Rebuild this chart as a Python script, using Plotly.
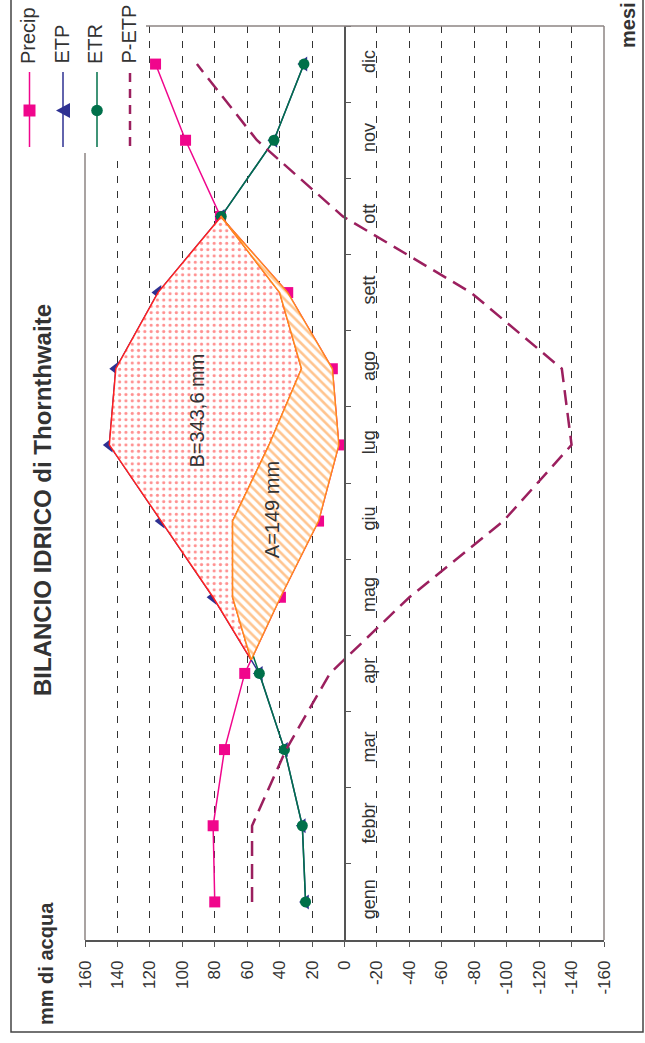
import plotly.graph_objects as go

# Monthly water balance (Thornthwaite), values in mm
months = ["genn", "febbr", "mar", "apr", "mag", "giu",
          "lug", "ago", "sett", "ott", "nov", "dic"]
precip = [80, 81, 74, 61.5, 39.5, 16, 3.5, 7.5, 35, 76.5, 98, 116.5]
etp = [24, 26, 37, 52.5, 81, 113, 145, 141, 115, 76, 43.5, 25]
etr = [24, 26, 37, 52.5, 69, 69, 46.5, 26.5, 40, 76, 43.5, 25]
p_etp = [57, 57, 36, 9, -40, -98, -140, -134, -78, 1, 54, 91]
value_ticks = list(range(-160, 161, 20))
value_labels = [str(v) for v in value_ticks]
area_b_label = "B=343,6 mm"
area_a_label = "A=149 mm"

W, H = 645, 1043
ML, MR, MT, MB = 85, 41, 26, 103
PW, PH = W - ML - MR, H - MT - MB

FONT = "Liberation Sans, Arial, sans-serif"
TXT = "#333333"
C_P = "#f0068c"
C_ETP = "#2e3192"
C_ETR = "#00704a"
C_DIFF = "#9b1f5e"
C_B = "#ff2020"
C_A = "#ff8a1f"
BORDER = "#8c8583"
AXIS = "#555555"


def px(x):
    return (x - ML) / PW


def py(y):
    return (H - MB - y) / PH


idx = list(range(len(months)))

fig = go.Figure()

fig.add_trace(go.Scatter(x=precip, y=idx, mode="lines+markers",
                         line=dict(color=C_P, width=1.5),
                         marker=dict(symbol="square", size=11, color=C_P)))
fig.add_trace(go.Scatter(x=etp, y=idx, mode="lines+markers",
                         line=dict(color=C_ETP, width=1.5),
                         marker=dict(symbol="triangle-left", size=13, color=C_ETP)))
fig.add_trace(go.Scatter(x=etr, y=idx, mode="lines+markers",
                         line=dict(color=C_ETR, width=1.5),
                         marker=dict(symbol="circle", size=11, color=C_ETR)))
fig.add_trace(go.Scatter(x=p_etp, y=idx, mode="lines",
                         line=dict(color=C_DIFF, width=2.5, dash="15px,8px")))

# where precipitation drops below ETP (between apr and mag)
i0 = months.index("apr")
t = (precip[i0] - etp[i0]) / ((precip[i0] - precip[i0 + 1]) + (etp[i0 + 1] - etp[i0]))
cross_y = i0 + t
cross_v = precip[i0] + (precip[i0 + 1] - precip[i0]) * t
i_end = months.index("ott")

# B: deficit between ETP and ETR
b_x = [cross_v] + etp[i0 + 1:i_end + 1] + etr[i_end - 1:i0:-1] + [cross_v]
b_y = [cross_y] + idx[i0 + 1:i_end + 1] + idx[i_end - 1:i0:-1] + [cross_y]
# A: soil water used, between ETR and precipitation
a_x = [cross_v] + etr[i0 + 1:i_end + 1] + precip[i_end:i0:-1] + [cross_v]
a_y = [cross_y] + idx[i0 + 1:i_end + 1] + idx[i_end:i0:-1] + [cross_y]

fig.add_trace(go.Scatter(x=b_x, y=b_y, mode="lines", fill="toself",
                         line=dict(color=C_B, width=1.5),
                         fillcolor="white",
                         fillpattern=dict(shape=".", fgcolor=C_B, bgcolor="white",
                                          size=6.3, solidity=0.2)))
fig.add_trace(go.Scatter(x=a_x, y=a_y, mode="lines", fill="toself",
                         line=dict(color=C_A, width=1.5),
                         fillcolor="white",
                         fillpattern=dict(shape="\\", fgcolor=C_A, bgcolor="white",
                                          size=6.5, solidity=0.4)))

fig.update_layout(
    width=W, height=H,
    margin=dict(l=ML, r=MR, t=MT, b=MB),
    paper_bgcolor="white", plot_bgcolor="white",
    showlegend=False,
    font=dict(family=FONT, color=TXT),
    xaxis=dict(range=[160, -160], tickmode="array", tickvals=value_ticks,
               ticktext=value_labels,
               tickangle=-90, ticks="outside", ticklen=5, tickcolor=AXIS,
               showline=True, linecolor=AXIS, linewidth=1.5,
               showgrid=True, gridcolor="#333333", gridwidth=1, griddash="7px,8px",
               zeroline=False, tickfont=dict(size=17, color=TXT),
               ticklabelstandoff=7),
    yaxis=dict(range=[-0.5, 11.5], tickmode="array", tickvals=idx, ticktext=months,
               anchor="free", position=0.5, side="right",
               showline=True, linecolor=AXIS, linewidth=1.5,
               ticks="", showgrid=False, zeroline=False,
               tickangle=-90, tickfont=dict(size=18, color=TXT),
               ticklabelstandoff=8,
               minor=dict(tickmode="array", tickvals=[i - 0.5 for i in range(13)],
                          ticks="outside", ticklen=6, tickcolor=AXIS, showgrid=False)),
)

shapes = []
# plot frame (left, top, right)
for x0, y0, x1, y1 in [(0, 0, 0, 1), (0, 1, 1, 1), (1, 0, 1, 1)]:
    shapes.append(dict(type="line", xref="paper", yref="paper", x0=x0, y0=y0, x1=x1, y1=y1,
                       line=dict(color=BORDER, width=1.5), layer="above"))
# outer chart border
shapes.append(dict(type="rect", xref="paper", yref="paper",
                   x0=px(11), x1=px(643), y0=py(1032), y1=py(-5),
                   line=dict(color="#444444", width=1.5), layer="above"))
# legend box
shapes.append(dict(type="rect", xref="paper", yref="paper",
                   x0=px(12), x1=px(146), y0=py(153), y1=py(-5),
                   line=dict(width=0), fillcolor="white", layer="above"))

leg = [("Precip", 29.5, C_P, "square"), ("ETP", 63, C_ETP, "tri"),
       ("ETR", 97, C_ETR, "circle"), ("P-ETP", 130, C_DIFF, "dash")]
for name, lx, col, kind in leg:
    if kind == "dash":
        shapes.append(dict(type="line", xref="paper", yref="paper",
                           x0=px(lx), x1=px(lx), y0=py(73), y1=py(147),
                           line=dict(color=col, width=2.5, dash="9px,7px"), layer="above"))
    else:
        shapes.append(dict(type="line", xref="paper", yref="paper",
                           x0=px(lx), x1=px(lx), y0=py(72), y1=py(147),
                           line=dict(color=col, width=1.5), layer="above"))
    if kind == "square":
        shapes.append(dict(type="rect", xref="paper", yref="paper",
                           x0=px(lx - 6), x1=px(lx + 6), y0=py(116.5), y1=py(104.5),
                           line=dict(width=0), fillcolor=col, layer="above"))
    elif kind == "tri":
        shapes.append(dict(type="path", xref="paper", yref="paper",
                           path=f"M {px(lx - 7)},{py(110.5)} L {px(lx + 7)},{py(103)} "
                                f"L {px(lx + 7)},{py(118)} Z",
                           line=dict(width=0), fillcolor=col, layer="above"))
    elif kind == "circle":
        shapes.append(dict(type="circle", xref="paper", yref="paper",
                           x0=px(lx - 5.8), x1=px(lx + 5.8), y0=py(116.3), y1=py(104.7),
                           line=dict(width=0), fillcolor=col, layer="above"))

fig.update_layout(shapes=shapes)

ann = []
for name, lx, col, kind in leg:
    ann.append(dict(text=name, xref="paper", yref="paper", x=px(lx - 2), y=py(66),
                    xanchor="center", yanchor="bottom", textangle=-90, showarrow=False,
                    font=dict(size=20, color=TXT)))
ann.append(dict(text="<b>BILANCIO IDRICO di Thornthwaite</b>", xref="paper", yref="paper",
                x=px(43), y=py(500), xanchor="center", yanchor="middle", textangle=-90,
                showarrow=False, font=dict(size=24, color=TXT)))
ann.append(dict(text="<b>mm di acqua</b>", xref="paper", yref="paper",
                x=px(46), y=py(964), xanchor="center", yanchor="middle", textangle=-90,
                showarrow=False, font=dict(size=20, color=TXT)))
ann.append(dict(text="<b>mesi</b>", xref="paper", yref="paper",
                x=px(628), y=py(25), xanchor="center", yanchor="middle", textangle=-90,
                showarrow=False, font=dict(size=20, color=TXT)))
ann.append(dict(text=area_b_label, x=91, y=6.45, xref="x", yref="y", textangle=-90,
                showarrow=False, font=dict(size=20, color=TXT)))
ann.append(dict(text=area_a_label, x=45, y=5.15, xref="x", yref="y", textangle=-90,
                showarrow=False, font=dict(size=20, color=TXT)))
fig.update_layout(annotations=ann)

fig.write_html("out.html")
